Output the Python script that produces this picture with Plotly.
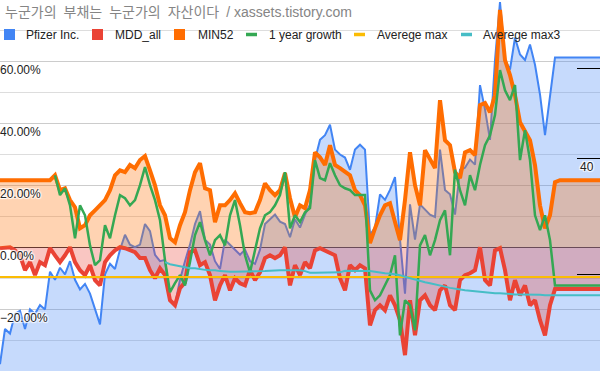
import plotly.graph_objects as go

W, H = 600, 371
N = 121
IDX = list(range(N))

# Pfizer Inc. price (right, log axis)
PFIZER = [24.0, 26.2, 25.9, 27.2, 27.4, 26.2, 27.5, 27.2, 27.8, 27.5,
          30.2, 29.6, 30.5, 30.0, 31.0, 29.6, 28.9, 29.3, 28.6, 27.5,
          26.5, 30.0, 30.8, 30.4, 31.9, 33.1, 32.3, 32.1, 32.3, 34.0,
          33.4, 31.5, 31.0, 31.1, 28.2, 27.8, 29.6, 31.0, 32.3, 34.0,
          35.1, 32.7, 32.3, 31.0, 30.4, 32.7, 32.3, 31.9, 31.5, 31.9,
          31.0, 30.8, 31.9, 34.0, 34.4, 34.8, 34.2, 34.0, 32.9, 34.4,
          33.7, 34.8, 35.7, 39.9, 41.9, 42.4, 43.5, 40.9, 40.4, 40.1,
          38.9, 40.9, 41.4, 40.9, 33.1, 33.7, 36.6, 36.1, 37.0, 38.2,
          32.7, 28.6, 35.7, 32.7, 35.7, 35.2, 34.8, 34.6, 40.9, 37.0,
          36.6, 34.8, 38.9, 39.1, 39.9, 39.4, 48.0, 45.2, 41.9, 51.1,
          59.0, 51.1, 49.9, 54.0, 51.8, 51.1, 53.1, 50.5, 46.9, 42.4,
          46.9, 51.4, 51.4, 51.4, 51.4, 51.4, 51.4, 51.4, 51.4, 51.4,
          51.4]

# MDD_all (%)
MDD_ALL = [-0.3, 0.0, 0.0, -1.0, -2.6, -7.4, -4.8, -9.0, -4.8, -5.8,
           -0.3, -2.6, -4.8, -2.6, 0.0, -4.8, -7.4, -9.0, -5.8, -10.6,
           -12.3, -4.8, -2.6, -1.0, 0.0, -0.3, -1.0, -1.6, -3.5, -3.5,
           -7.4, -10.0, -6.8, -9.0, -17.1, -18.7, -13.2, -11.3, -1.6, -1.0,
           -5.8, -4.8, -9.0, -17.1, -12.3, -9.0, -13.9, -10.0, -11.6, -12.3,
           -7.4, -10.6, -8.1, -3.5, -2.6, -3.5, -2.6, 0.0, -12.3, -5.8,
           -9.0, -4.8, -6.8, -1.0, -0.3, -1.0, -1.6, -2.6, -10.0, -13.9,
           -5.8, -7.4, -5.8, -6.8, -25.2, -20.3, -18.7, -20.3, -15.5, -18.7,
           -23.5, -34.8, -17.1, -28.4, -17.1, -15.5, -18.7, -20.3, -13.9, -12.3,
           -18.7, -20.3, -10.6, -9.0, -8.4, -7.4, 0.0, -10.6, -12.3, -1.0,
           -0.3, -7.4, -17.1, -10.6, -15.5, -12.3, -18.7, -17.1, -23.5, -28.4,
           -18.7, -13.5, -13.5, -13.5, -13.5, -13.5, -13.5, -13.5, -13.5, -13.5,
           -13.5]

# MIN52 (%)
MIN52 = [21.6, 21.6, 21.6, 21.6, 21.6, 21.6, 21.6, 21.6, 21.6, 21.6,
         21.6, 23.2, 18.4, 19.0, 15.2, 12.9, 6.1, 7.1, 10.3, 11.9,
         13.5, 15.2, 18.4, 23.2, 24.8, 24.2, 26.5, 25.5, 28.1, 29.4,
         24.8, 20.0, 13.5, 10.3, 2.9, 1.6, 7.1, 11.3, 18.4, 24.2,
         27.1, 19.0, 18.4, 8.1, 13.5, 13.5, 15.2, 17.4, 14.2, 11.3,
         11.0, 11.3, 15.2, 20.6, 18.4, 16.8, 18.4, 23.9, 15.8, 9.7,
         13.5, 12.6, 18.4, 30.6, 29.0, 26.5, 32.9, 26.5, 25.5, 24.2,
         23.2, 18.4, 16.8, 13.5, 1.3, 6.1, 10.3, 13.5, 14.2, 8.1,
         2.3, 15.2, 30.6, 20.0, 13.5, 31.3, 28.1, 25.5, 47.4, 34.5,
         32.9, 24.2, 22.3, 30.6, 31.3, 29.7, 45.8, 46.5, 43.5, 49.0,
         76.5, 60.3, 55.5, 49.0, 40.3, 37.1, 34.5, 26.5, 13.5, 6.1,
         10.3, 21.0, 21.6, 21.6, 21.6, 21.6, 21.6, 21.6, 21.6, 21.6,
         21.6]

# 1 year growth (%)
GROWTH_1Y = [None, None, None, None, None, None, None, None, None, None,
             None, 23.2, 16.8, 19.0, 13.5, 2.9, 13.5, 10.3, 0.6, -5.8,
             -4.2, 7.1, 2.9, 10.3, 16.8, 15.8, 13.5, 15.2, 20.0, 25.8,
             20.0, 15.2, 8.7, -4.2, -14.5, -11.6, -9.0, -12.3, -4.8, 3.9,
             8.1, 2.3, -2.6, 2.3, 3.9, 0.6, 10.3, 15.2, 7.1, -2.6,
             -8.1, -1.0, 6.1, 10.3, 11.3, 13.5, 16.8, 24.2, 6.1, 10.3,
             8.1, 11.3, 12.6, 28.1, 22.3, 21.6, 27.1, 23.2, 20.0, 19.0,
             18.4, 16.8, 16.8, 16.8, -13.9, -17.1, -15.5, -12.3, -9.0, -2.6,
             -28.4, -17.1, -18.7, -26.8, 0.6, 3.9, -2.6, 2.3, 8.7, 11.9,
             -2.6, 25.0, 18.4, 13.5, 23.2, 18.4, 26.5, 32.9, 36.1, 42.6,
             57.1, 50.6, 47.4, 52.3, 28.1, 37.7, 28.1, 10.3, 5.5, 10.3,
             2.3, -12.3, -12.3, -12.3, -12.3, -12.3, -12.3, -12.3, -12.3, -12.3,
             -12.3]

# Averege max (%): constant level
AVG_MAX_LEVEL = -9.6
AVG_MAX = [AVG_MAX_LEVEL] * N

# Averege max3 (%)
AVG_MAX3 = [None] * 33 + [
    -4.8, -5.5, -5.8, -6.1, -6.5, -6.8, -6.8, -7.1, -7.3, -7.4,
    -7.4, -7.7, -7.9, -7.9, -7.9, -7.9, -7.9, -7.9, -7.9, -7.9,
    -7.7, -7.6, -7.4, -7.4, -7.4, -7.4, -7.4, -7.4, -7.7, -8.2,
    -8.2, -8.2, -8.1, -8.1, -8.1, -8.1, -7.6, -7.6, -7.6, -7.6,
    -7.6, -7.7, -7.9, -8.2, -8.4, -8.5, -8.7, -9.0, -9.5, -10.0,
    -10.5, -11.0, -11.3, -11.6, -11.9, -12.3, -12.7, -13.1, -13.4, -13.7,
    -13.9, -14.0, -14.2, -14.4, -14.5, -14.7, -14.8, -14.8, -15.0, -15.0,
    -15.2, -15.2, -15.2, -15.3, -15.3, -15.3, -15.5, -15.5, -15.5, -15.5,
    -15.5, -15.5, -15.5, -15.5, -15.5, -15.5, -15.5, -15.5]

SERIES_NAMES = ["Pfizer Inc.", "MDD_all", "MIN52", "1 year growth", "Averege max", "Averege max3"]
COLORS = ["#4285F4", "#EA4335", "#FF6D01", "#34A853", "#FBBC04", "#46BDC6"]
FILLS = ["rgba(66,133,244,0.3)", "rgba(234,67,53,0.3)", "rgba(255,109,1,0.3)"]
TITLE = "누군가의\u2002부채는\u2002누군가의\u2002자산이다\u2002/ xassets.tistory.com"

FONT = "Arial, 'Liberation Sans', 'Noto Sans CJK KR', sans-serif"

fig = go.Figure()
fig.add_trace(go.Scatter(x=IDX, y=PFIZER, name=SERIES_NAMES[0], mode="lines",
                         line=dict(color=COLORS[0], width=2), fill="tozeroy",
                         fillcolor=FILLS[0], yaxis="y", showlegend=False))
fig.add_trace(go.Scatter(x=IDX, y=MDD_ALL, name=SERIES_NAMES[1], mode="lines",
                         line=dict(color=COLORS[1], width=4), fill="tozeroy",
                         fillcolor=FILLS[1], yaxis="y2", showlegend=False))
fig.add_trace(go.Scatter(x=IDX, y=MIN52, name=SERIES_NAMES[2], mode="lines",
                         line=dict(color=COLORS[2], width=4), fill="tozeroy",
                         fillcolor=FILLS[2], yaxis="y2", showlegend=False))
fig.add_trace(go.Scatter(x=IDX, y=GROWTH_1Y, name=SERIES_NAMES[3], mode="lines",
                         line=dict(color=COLORS[3], width=2.5), yaxis="y2", showlegend=False))
fig.add_trace(go.Scatter(x=IDX, y=AVG_MAX, name=SERIES_NAMES[4], mode="lines",
                         line=dict(color=COLORS[4], width=2), yaxis="y2", showlegend=False))
fig.add_trace(go.Scatter(x=IDX, y=AVG_MAX3, name=SERIES_NAMES[5], mode="lines",
                         line=dict(color=COLORS[5], width=2), yaxis="y2", showlegend=False))


def px(x):
    return x / W


def py(y):
    return 1 - y / H


# custom legend (Google-Sheets style)
LEG_ICON_X = [4, 92, 174, 246, 354, 461]
LEG_TEXT_X = [24, 113, 196, 267, 375, 481]
LEG_KIND = ["box", "box", "box", "line", "line", "line"]
LEG_Y = 34.5
shapes = []
annotations = []
for i, name in enumerate(SERIES_NAMES):
    x0 = LEG_ICON_X[i]
    if LEG_KIND[i] == "box":
        shapes.append(dict(type="rect", xref="paper", yref="paper",
                           x0=px(x0), x1=px(x0 + 11), y0=py(LEG_Y - 5.5), y1=py(LEG_Y + 5.5),
                           fillcolor=COLORS[i], line=dict(width=0), layer="above"))
    else:
        shapes.append(dict(type="line", xref="paper", yref="paper",
                           x0=px(x0), x1=px(x0 + 11), y0=py(LEG_Y), y1=py(LEG_Y),
                           line=dict(color=COLORS[i], width=3.5), layer="above"))
    annotations.append(dict(xref="paper", yref="paper", x=px(LEG_TEXT_X[i]), y=py(LEG_Y),
                            xanchor="left", yanchor="middle", showarrow=False, text=name,
                            font=dict(family=FONT, size=12, color="#222222")))

annotations.append(dict(xref="paper", yref="paper", x=px(3), y=py(12.5),
                        xanchor="left", yanchor="middle", showarrow=False,
                        text=TITLE,
                        font=dict(family=FONT, size=14, color="#858585")))

fig.update_layout(
    width=W, height=H,
    margin=dict(l=0, r=0, t=0, b=0, pad=0, autoexpand=False),
    paper_bgcolor="white", plot_bgcolor="white",
    showlegend=False,
    hovermode=False,
    font=dict(family=FONT, size=12, color="#222222"),
    xaxis=dict(range=[0, N - 1], visible=False, showgrid=False, zeroline=False,
               automargin=False),
    yaxis=dict(type="log", side="right", range=[1.3729, 1.7731],
               tickvals=[30, 40, 50], ticktext=["", "40", ""],
               ticks="inside", ticklen=23, tickcolor="#000000", tickwidth=1,
               ticklabelposition="inside", ticklabelstandoff=-17, ticklabelshift=8,
               tickfont=dict(family=FONT, size=12, color="#222222", shadow="auto"),
               showgrid=False, zeroline=False, showline=False, automargin=False),
    yaxis2=dict(overlaying="y", side="left", range=[-39.9, 79.7],
                tick0=0, dtick=20, tickformat=".2f", ticksuffix="%",
                ticklabelposition="inside", ticklabelshift=9, ticklabelstandoff=-3,
                tickfont=dict(family=FONT, size=12, color="#222222", shadow="auto"),
                showgrid=True, gridcolor="#cccccc", gridwidth=1,
                minor=dict(dtick=10, tick0=0, showgrid=True, gridcolor="#dddddd", gridwidth=1),
                zeroline=True, zerolinecolor="#333333", zerolinewidth=1,
                showline=False, ticks="", automargin=False),
    shapes=shapes,
    annotations=annotations,
)

fig.write_html("out.html", config={"displayModeBar": False, "staticPlot": True},
               post_script="document.body.style.margin='0';")
